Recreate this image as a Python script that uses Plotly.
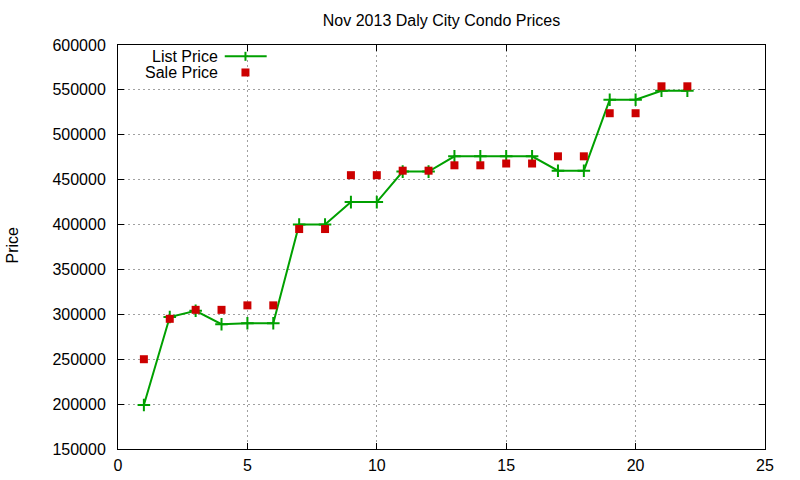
import plotly.graph_objects as go

# sale index (x axis) and prices
sale_no = list(range(1, 23))
list_price = [199000, 297000, 304000, 289000, 290000, 290000, 400000, 400000,
              425000, 425000, 459000, 459000, 476000, 476000, 476000, 476000,
              460000, 460000, 539000, 539000, 549000, 549000]
sale_price = [250000, 295000, 305000, 305000, 310000, 310000, 395000, 395000,
              455000, 455000, 460000, 460000, 466000, 466000, 468000, 468000,
              476000, 476000, 524000, 524000, 554000, 554000]

GREEN = '#00a000'
RED = '#cc0000'
FONT = 'Liberation Sans, Arial, sans-serif'

W, H = 800, 480

fig = go.Figure()

fig.add_trace(go.Scatter(
    x=sale_no, y=list_price,
    mode='lines+markers',
    name='List Price',
    line=dict(color=GREEN, width=2),
    marker=dict(symbol='cross-thin', size=9, line=dict(color=GREEN, width=2)),
    showlegend=False
))

fig.add_trace(go.Scatter(
    x=sale_no, y=sale_price,
    mode='markers',
    name='Sale Price',
    marker=dict(symbol='square', size=8, color=RED),
    showlegend=False
))

# gnuplot style key, drawn by hand (text on the left, sample on the right)
key_x = 0.197
key_rows = [('List Price', 0.972), ('Sale Price', 0.932)]
for label, ky in key_rows:
    fig.add_annotation(
        x=0.1575, y=ky, xref='paper', yref='paper',
        text=label, showarrow=False, xanchor='right', yanchor='middle',
        font=dict(family=FONT, size=16, color='black')
    )

ky = key_rows[0][1]
fig.add_shape(type='line', xref='paper', yref='paper',
              x0=0.165, x1=0.2298, y0=ky, y1=ky,
              line=dict(color=GREEN, width=2))
fig.add_shape(type='line', xref='paper', yref='paper',
              xsizemode='pixel', ysizemode='pixel', xanchor=key_x, yanchor=ky,
              x0=0, x1=0, y0=-4.5, y1=4.5, line=dict(color=GREEN, width=2))

ky = key_rows[1][1]
fig.add_shape(type='rect', xref='paper', yref='paper',
              xsizemode='pixel', ysizemode='pixel', xanchor=key_x, yanchor=ky,
              x0=-4, x1=4, y0=-4, y1=4,
              line=dict(width=0), fillcolor=RED)

fig.add_annotation(
    x=-0.163, y=0.505, xref='paper', yref='paper',
    text='Price', showarrow=False, textangle=-90,
    xanchor='center', yanchor='middle',
    font=dict(family=FONT, size=16, color='black')
)

fig.update_layout(
    title=dict(text='Nov 2013 Daly City Condo Prices', x=0.5, xref='paper',
               y=1 - 20 / H, yanchor='middle',
               font=dict(family=FONT, size=16, color='black')),
    width=W, height=H,
    margin=dict(l=118, r=35, t=45, b=31),
    plot_bgcolor='white',
    paper_bgcolor='white',
    font=dict(family=FONT, size=16, color='black')
)

axis_style = dict(
    showline=True, linecolor='black', linewidth=1, mirror='allticks',
    ticks='inside', ticklen=6, tickwidth=1, tickcolor='black',
    showgrid=True, gridcolor='#a0a0a0', gridwidth=1, griddash='2px,3px',
    zeroline=False, automargin=False,
    tickfont=dict(family=FONT, size=16, color='black')
)

fig.update_xaxes(range=[0, 25], dtick=5, tick0=0, ticklabelstandoff=2, **axis_style)
fig.update_yaxes(range=[150000, 600000], dtick=50000, tick0=0, tickformat='d',
                 ticklabelstandoff=8, **axis_style)

# drop the default 8px body margin so the figure sits at the window corner
fig.write_html("out.html", config={'displayModeBar': False},
               post_script="document.body.style.margin = '0';")
